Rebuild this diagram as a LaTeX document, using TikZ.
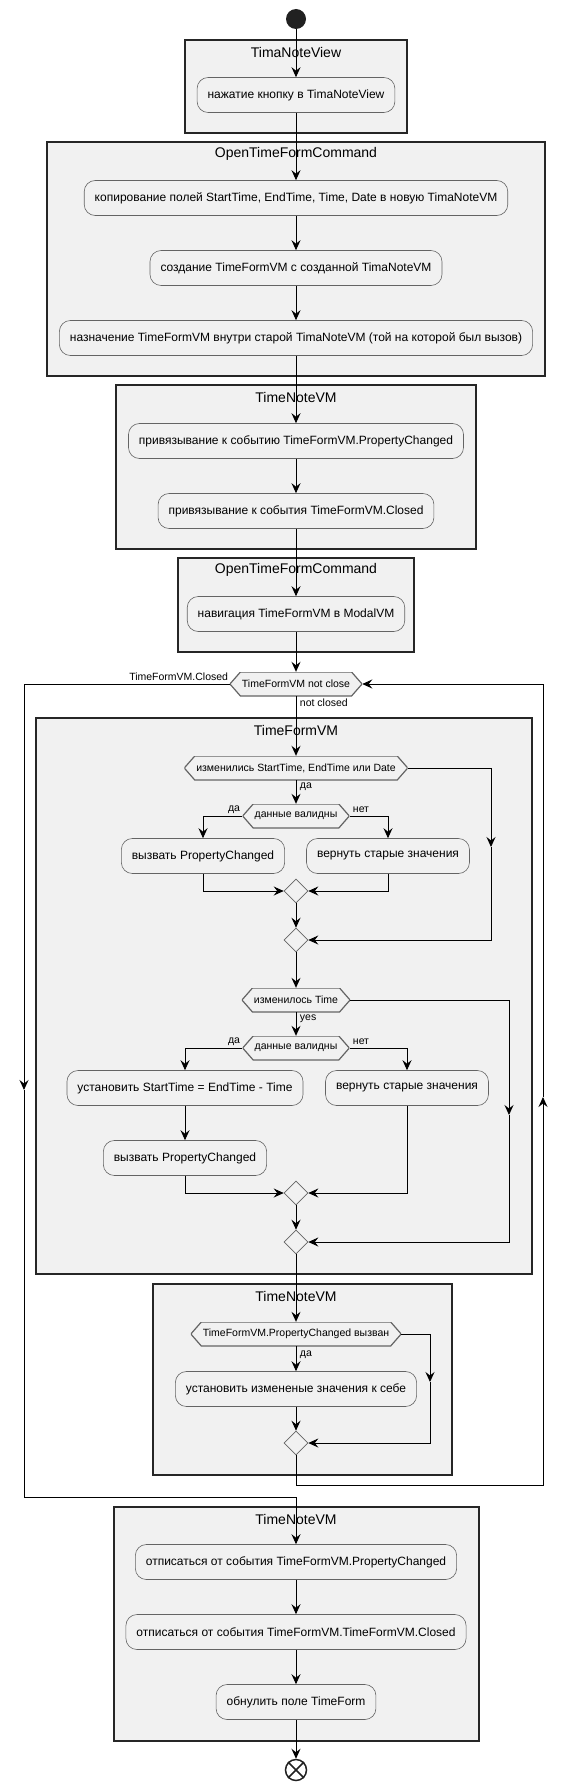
\documentclass[tikz,border=0pt]{standalone}
\usepackage{fontspec}
\setmainfont{Liberation Sans}
\usetikzlibrary{arrows.meta,shapes.geometric}
\definecolor{partbg}{RGB}{241,241,241}
\definecolor{edgegray}{RGB}{100,100,100}

\begin{document}
\begin{tikzpicture}[x=1pt,y=1pt,yscale=-1,xscale=1,
  act/.style={draw=edgegray, line width=0.6, fill=partbg, rounded corners=11, minimum height=35, inner xsep=10.5, font=\fontsize{12}{14}\selectfont},
  part/.style={draw=black!85, line width=1.4, fill=partbg},
  title/.style={font=\fontsize{14}{16}\selectfont, inner sep=0.75},
  merge/.style={diamond, draw=edgegray, line width=0.6, fill=partbg, minimum width=24, minimum height=24, inner sep=0},
  choice/.style={minimum height=24, inner xsep=12, inner ysep=0, font=\fontsize{10.5}{12}\selectfont,
    path picture={\draw[draw=edgegray, line width=1.2, fill=partbg] (path picture bounding box.west) -- ([xshift=10.5pt]path picture bounding box.north west) -- ([xshift=-10.5pt]path picture bounding box.north east) -- (path picture bounding box.east) -- ([xshift=-10.5pt]path picture bounding box.south east) -- ([xshift=10.5pt]path picture bounding box.south west) -- cycle;}},
  lbl/.style={font=\fontsize{10.5}{12}\selectfont, inner sep=0.75},
  flow/.style={-{Stealth[length=10,width=9,inset=3.5]}, line width=0.9},
  wire/.style={line width=0.9}]
\useasboundingbox (0,0) rectangle (569,1790);

%Shape: Rectangle [partitions]
\draw [part] (185,40) rectangle (407,133) ;
\draw [part] (47,142) rectangle (545,376) ;
\draw [part] (116,385) rectangle (476,549) ;
\draw [part] (178,558) rectangle (414,652) ;
\draw [part] (36,718) rectangle (532,1274) ;
\draw [part] (153,1284) rectangle (452,1475) ;
\draw [part] (114,1507) rectangle (479,1741) ;

% Text Node
\node [title] (t1) at (296,52) {TimaNoteView};
\node [title] (t2) at (296,154) {OpenTimeFormCommand};
\node [title] (t3) at (296,397) {TimeNoteVM};
\node [title] (t4) at (296,570) {OpenTimeFormCommand};
\node [title] (t5) at (296,730) {TimeFormVM};
\node [title] (t6) at (296,1296) {TimeNoteVM};
\node [title] (t7) at (296,1519) {TimeNoteVM};

%Shape: Circle [start]
\node [circle, fill=black!87, minimum size=20, inner sep=0] (start) at (296,19) {};

% Text Node [actions]
\node [act] (a1) at (296,95) {нажатие кнопку в TimaNoteView};
\node [act] (a2) at (296,198) {копирование полей StartTime, EndTime, Time, Date в новую TimaNoteVM};
\node [act] (a3) at (296,268) {создание TimeFormVM с созданной TimaNoteVM};
\node [act] (a4) at (296,338) {назначение TimeFormVM внутри старой TimaNoteVM (той на которой был вызов)};
\node [act] (a5) at (296,441) {привязывание к событию TimeFormVM.PropertyChanged};
\node [act] (a6) at (296,511) {привязывание к события TimeFormVM.Closed};
\node [act] (a7) at (296,614) {навигация TimeFormVM в ModalVM};
\node [act] (a8) at (203,856) {вызвать PropertyChanged};
\node [act] (a9) at (388,856) {вернуть старые значения};
\node [act] (a10) at (185,1088) {установить StartTime = EndTime - Time};
\node [act] (a11) at (407,1088) {вернуть старые значения};
\node [act] (a12) at (185,1158) {вызвать PropertyChanged};
\node [act] (a13) at (296,1389) {установить измененые значения к себе};
\node [act] (a14) at (296,1562) {отписаться от события TimeFormVM.PropertyChanged};
\node [act] (a15) at (296,1632) {отписаться от события TimeFormVM.TimeFormVM.Closed};
\node [act] (a16) at (296,1702) {обнулить поле TimeForm};

% Text Node [conditions]
\node [choice] (h1) at (296,684) {TimeFormVM not close};
\node [choice] (h2) at (296,768) {изменились StartTime, EndTime или Date};
\node [choice] (h3) at (296,816) {данные валидны};
\node [choice] (h4) at (296,1000) {изменилось Time};
\node [choice] (h5) at (296,1048) {данные валидны};
\node [choice] (h6) at (296,1334) {TimeFormVM.PropertyChanged вызван};

%Shape: Diamond [merges]
\node [merge] (d1) at (296,891) {};
\node [merge] (d2) at (296,940) {};
\node [merge] (d3) at (296,1193) {};
\node [merge] (d4) at (296,1242) {};
\node [merge] (d5) at (296,1443) {};

%Shape: Circle [stop]
\node [circle, draw=black!87, line width=1.5, minimum size=21, inner sep=0] (stop) at (296,1770) {};
\draw [line width=1.5, black!87] (stop.north west) -- (stop.south east) (stop.north east) -- (stop.south west) ;

% Text Node [labels]
\node [lbl, anchor=east] (lclosed) at (229,677) {TimeFormVM.Closed};
\node [lbl, anchor=west] (lnot) at (299,703) {not closed};
\node [lbl, anchor=west] (lyes1) at (299,787) {да};
\node [lbl, anchor=east] (lyes2) at (241,810) {да};
\node [lbl, anchor=west] (lno2) at (352,810) {нет};
\node [lbl, anchor=west] (lyes3) at (299,1019) {yes};
\node [lbl, anchor=east] (lyes4) at (241,1042) {да};
\node [lbl, anchor=west] (lno4) at (352,1042) {нет};
\node [lbl, anchor=west] (lyes5) at (299,1355) {да};

% bend points
\coordinate (r1) at (491,768);
\coordinate (r1m) at (491,847);
\coordinate (r2) at (509,1000);
\coordinate (r2m) at (509,1115);
\coordinate (r3) at (430,1334);
\coordinate (r3m) at (430,1382);
\coordinate (back1) at (296,1485);
\coordinate (back2) at (543,1485);
\coordinate (backm) at (543,1097);
\coordinate (out1) at (24,684);
\coordinate (outm) at (24,1090);
\coordinate (out2) at (24,1497);

%Straight Lines [main flow]
\draw [flow] (start) -- (a1) ;
\draw [flow] (a1) -- (a2) ;
\draw [flow] (a2) -- (a3) ;
\draw [flow] (a3) -- (a4) ;
\draw [flow] (a4) -- (a5) ;
\draw [flow] (a5) -- (a6) ;
\draw [flow] (a6) -- (a7) ;
\draw [flow] (a7) -- (h1) ;
\draw [flow] (h1) -- (h2) ;
\draw [flow] (h2) -- (h3) ;
\draw [flow] (h3.west) -| (a8.north) ;
\draw [flow] (h3.east) -| (a9.north) ;
\draw [flow] (a8.south) |- (d1.west) ;
\draw [flow] (a9.south) |- (d1.east) ;
\draw [flow] (d1) -- (d2) ;
\draw [flow] (h2.east) -- (r1) -- (r1m) ;
\draw [flow] (r1m) |- (d2.east) ;
\draw [flow] (d2) -- (h4) ;
\draw [flow] (h4) -- (h5) ;
\draw [flow] (h5.west) -| (a10.north) ;
\draw [flow] (h5.east) -| (a11.north) ;
\draw [flow] (a10) -- (a12) ;
\draw [flow] (a12.south) |- (d3.west) ;
\draw [flow] (a11.south) |- (d3.east) ;
\draw [flow] (d3) -- (d4) ;
\draw [flow] (h4.east) -- (r2) -- (r2m) ;
\draw [flow] (r2m) |- (d4.east) ;
\draw [flow] (d4) -- (h6) ;
\draw [flow] (h6) -- (a13) ;
\draw [flow] (a13) -- (d5) ;
\draw [flow] (h6.east) -- (r3) -- (r3m) ;
\draw [flow] (r3m) |- (d5.east) ;
%Straight Lines [loop back]
\draw [flow] (d5.south) -- (back1) -- (back2) -- (backm) ;
\draw [flow] (backm) |- (h1.east) ;
%Straight Lines [loop exit]
\draw [flow] (h1.west) -- (out1) -- (outm) ;
\draw [flow] (outm) -- (out2) -| (a14.north) ;
\draw [flow] (a14) -- (a15) ;
\draw [flow] (a15) -- (a16) ;
\draw [flow] (a16) -- (stop) ;

\end{tikzpicture}
\end{document}
